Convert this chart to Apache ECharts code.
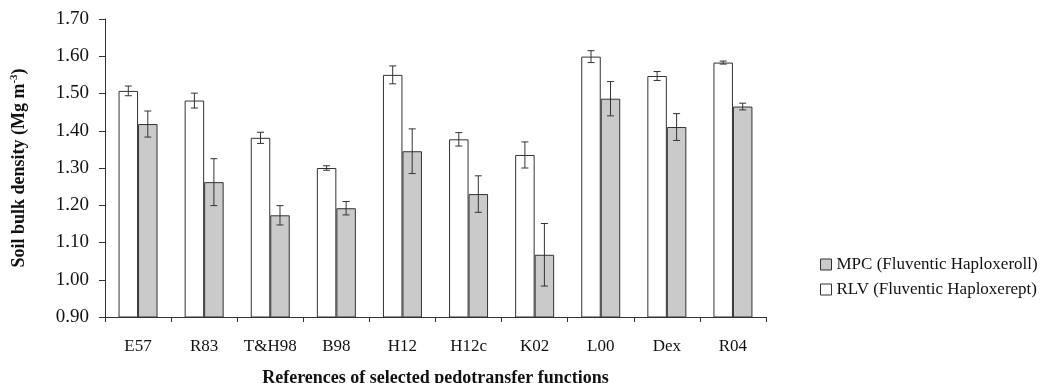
<!DOCTYPE html>
<html>
<head>
<meta charset="utf-8">
<script src="https://cdn.jsdelivr.net/npm/echarts@6/dist/echarts.min.js"></script>
<style>
    html, body { margin: 0; padding: 0; background: #fff; }
    #chart { width: 1047px; height: 383px; }
</style>
</head>
<body>
<div id="chart"></div>
<script>
    const categories = ['E57', 'R83', 'T&H98', 'B98', 'H12', 'H12c', 'K02', 'L00', 'Dex', 'R04']
    const rlvValues = [1.507, 1.481, 1.381, 1.300, 1.550, 1.377, 1.335, 1.599, 1.547, 1.583]
    const rlvErrors = [0.013, 0.020, 0.015, 0.006, 0.024, 0.018, 0.035, 0.016, 0.012, 0.004]
    const mpcValues = [1.418, 1.262, 1.173, 1.192, 1.345, 1.230, 1.067, 1.486, 1.410, 1.465]
    const mpcErrors = [0.035, 0.063, 0.026, 0.018, 0.060, 0.049, 0.084, 0.046, 0.036, 0.009]
    const yTicks = [0.9, 1.0, 1.1, 1.2, 1.3, 1.4, 1.5, 1.6, 1.7]

    const font = '"Liberation Serif", "Times New Roman", serif'
    const lineColor = '#333'
    const textColor = '#111'
    const barGapRatio = 0.41

    function errorData(values, errors) {
        return values.map((v, i) => [i, v - errors[i], v + errors[i]])
    }

    // side: -1 for left bar (RLV), 1 for right bar (MPC)
    function errorBar(side) {
        return function (params, api) {
            const idx = api.value(0)
            const band = api.size([1, 0])[0]
            const barW = band * (1 - barGapRatio) / 2
            const lo = api.coord([idx, api.value(1)])
            const hi = api.coord([idx, api.value(2)])
            const x = lo[0] + side * barW / 2
            const cap = 3.5
            const style = { stroke: lineColor, lineWidth: 1 }
            return {
                type: 'group',
                children: [
                    { type: 'line', shape: { x1: x, y1: hi[1], x2: x, y2: lo[1] }, style: style },
                    { type: 'line', shape: { x1: x - cap, y1: hi[1], x2: x + cap, y2: hi[1] }, style: style },
                    { type: 'line', shape: { x1: x - cap, y1: lo[1], x2: x + cap, y2: lo[1] }, style: style }
                ]
            }
        }
    }

    const chart = echarts.init(document.getElementById('chart'))
    const options = {
        animation: false,
        textStyle: { fontFamily: font },
        grid: {
            left: 105,
            right: 281,
            top: 19,
            bottom: 66,
            outerBoundsMode: 'none'
        },
        legend: {
            data: ['MPC (Fluventic Haploxeroll)', 'RLV (Fluventic Haploxerept)'],
            orient: 'vertical',
            left: 815,
            top: 251,
            icon: 'rect',
            itemWidth: 11,
            itemHeight: 11,
            itemGap: 8,
            itemStyle: { borderColor: lineColor, borderWidth: 1 },
            textStyle: { fontFamily: font, fontSize: 17, color: textColor }
        },
        xAxis: {
            type: 'category',
            data: categories,
            name: 'References of selected pedotransfer functions',
            nameLocation: 'middle',
            nameGap: 52,
            nameTextStyle: { fontFamily: font, fontSize: 18, fontWeight: 'bold', color: textColor },
            axisLine: { lineStyle: { color: lineColor, width: 1 } },
            axisTick: { show: true, interval: 0, length: 5, lineStyle: { color: lineColor } },
            axisLabel: { interval: 0, fontFamily: font, fontSize: 17, color: textColor, margin: 21 }
        },
        yAxis: {
            type: 'value',
            min: 0.9,
            max: 1.7,
            interval: 0.1,
            name: '{a|Soil bulk density (Mg m}{s|-3}{a|)}',
            nameLocation: 'middle',
            nameGap: 76,
            nameTextStyle: {
                rich: {
                    a: { fontFamily: font, fontSize: 18, fontWeight: 'bold', color: textColor, lineHeight: 20 },
                    s: { fontFamily: font, fontSize: 11, fontWeight: 'bold', color: textColor, verticalAlign: 'top', lineHeight: 20 }
                }
            },
            splitLine: { show: false },
            axisLine: { show: true, lineStyle: { color: lineColor, width: 1 } },
            axisTick: { show: true, length: 6, lineStyle: { color: lineColor } },
            axisLabel: {
                fontFamily: font,
                fontSize: 19,
                color: textColor,
                margin: 16,
                formatter: v => yTicks.some(t => Math.abs(t - v) < 1e-6) ? v.toFixed(2) : ''
            }
        },
        series: [
            {
                name: 'RLV (Fluventic Haploxerept)',
                type: 'bar',
                data: rlvValues,
                barGap: '0%',
                barCategoryGap: (barGapRatio * 100) + '%',
                itemStyle: { color: '#ffffff', borderColor: lineColor, borderWidth: 1 }
            },
            {
                name: 'MPC (Fluventic Haploxeroll)',
                type: 'bar',
                data: mpcValues,
                barGap: '0%',
                barCategoryGap: (barGapRatio * 100) + '%',
                itemStyle: { color: '#cacaca', borderColor: lineColor, borderWidth: 1 }
            },
            {
                type: 'custom',
                renderItem: errorBar(-1),
                data: errorData(rlvValues, rlvErrors),
                encode: { x: 0, y: [1, 2] },
                z: 10
            },
            {
                type: 'custom',
                renderItem: errorBar(1),
                data: errorData(mpcValues, mpcErrors),
                encode: { x: 0, y: [1, 2] },
                z: 10
            }
        ]
    }
    chart.setOption(options)
</script>
</body>
</html>
